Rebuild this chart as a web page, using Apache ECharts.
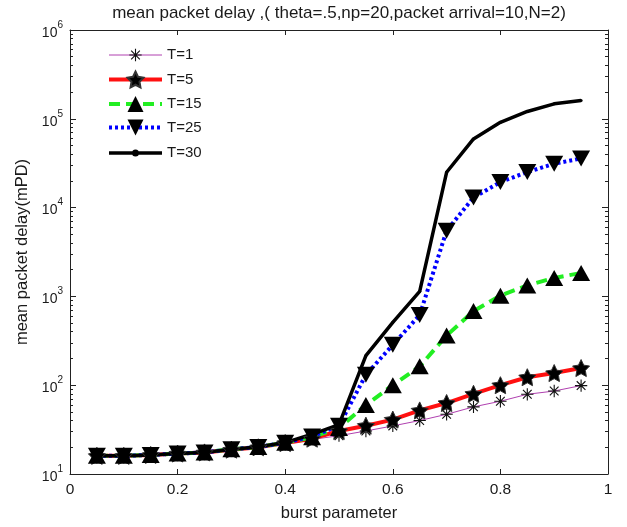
<!DOCTYPE html>
<html>
<head>
<meta charset="utf-8">
<script src="https://cdn.jsdelivr.net/npm/echarts@6/dist/echarts.min.js"></script>
<style>html,body{margin:0;padding:0;background:#fff}#c{width:627px;height:527px}</style>
</head>
<body>
<div id="c"></div>
<script>
var burst = [0.05,0.1,0.15,0.2,0.25,0.3,0.35,0.4,0.45,0.5,0.55,0.6,0.65,0.7,0.75,0.8,0.85,0.9,0.95];
var T1  = [16,16,16.4,17,17.5,19,20.2,22.3,24.5,27,30.5,34.8,40,47,57,66,79,86,99];
var T5  = [16,16,16.4,17,17.5,18.8,20,22.3,25,30.5,35,41,52,63,80,100,123,137,156];
var T15 = [16,16,16.4,17,17.5,19,20.2,22.5,26,33,60,100,163,362,683,1020,1330,1615,1835];
var T25 = [16,16,16.4,17,17.5,19,20.2,22.5,26.5,35,131,285,617,5500,13000,19400,25100,31200,35800];
var T30 = [16,16,16.4,17,17.5,19,20.2,22.6,28,36,215,510,1140,25000,59400,91200,121000,147500,160800];
var xTicks = [0,0.2,0.4,0.6,0.8,1];
var yDecades = [10,100,1000,10000,100000,1000000];
var seriesNames = ['T=1','T=5','T=15','T=25','T=30'];
var titleText = 'mean packet delay ,( theta=.5,np=20,packet arrival=10,N=2)';
var xName = 'burst parameter';
var yName = 'mean packet delay(mPD)';

var FONT = '"Liberation Sans", Arial, Helvetica, sans-serif';
var TXT = '#1a1a1a';
// asterisk inside a 26x26 box (tiny corner slivers keep the box size)
var ASTERISK = 'path://M0 0 L0.02 0 L0.02 0.02 Z M26 26 L25.98 26 L25.98 25.98 Z ' +
  'M12.1 3 L13.9 3 L13.9 23 L12.1 23 Z M3 12.1 L23 12.1 L23 13.9 L3 13.9 Z ' +
  'M5.3 6.6 L6.6 5.3 L20.7 19.4 L19.4 20.7 Z M19.4 5.3 L20.7 6.6 L6.6 20.7 L5.3 19.4 Z';
var STAR = 'path://M10 0 L12.94 5.95 L19.51 6.91 L14.76 11.55 L15.88 18.09 L10 15 L4.12 18.09 L5.24 11.55 L0.49 6.91 L7.06 5.95 Z';
// legend icon for T=30: thick line with a small dot, inside a 53x20 box
var LINEDOT = 'path://M0 0 L0.02 0 L0.02 0.02 Z M53 20 L52.98 20 L52.98 19.98 Z ' +
  'M0 8.25 L53 8.25 L53 11.75 L0 11.75 Z M23 10 A3.5 3.5 0 1 1 30 10 A3.5 3.5 0 1 1 23 10 Z';

function pairs(ys){ return burst.map(function(x,i){ return [x, ys[i]]; }); }

var minorLogs = [];
for (var d = 1; d < 6; d++) { for (var k = 2; k <= 9; k++) { minorLogs.push(d + Math.log10(k)); } }

function logLabel(v){ return '{b|10}{e|' + Math.round(Math.log10(v)) + '}'; }

var chart = echarts.init(document.getElementById('c'), null, {renderer:'canvas'});
var axisLine = {show:true, lineStyle:{color:'#222', width:1}};
var option = {
  animation:false,
  backgroundColor:'#fff',
  textStyle:{fontFamily:FONT},
  title:{text:titleText, left:339, textAlign:'center', top:5, padding:0,
    textStyle:{fontFamily:FONT, fontSize:17, fontWeight:'normal', color:TXT}},
  legend:{orient:'vertical', left:107, top:47, padding:0, itemWidth:53, itemHeight:20, itemGap:7.5,
    lineStyle:{width:'inherit'},
    textStyle:{fontFamily:FONT, fontSize:15, color:TXT},
    data:[seriesNames[0], seriesNames[1], seriesNames[2], seriesNames[3],
      {name:seriesNames[4], icon:LINEDOT}]},
  grid:{left:70, right:19, top:30, bottom:50, containLabel:false},
  xAxis:[
    {type:'value', min:0, max:1, interval:0.2, position:'bottom',
     name:xName, nameLocation:'middle', nameGap:31,
     nameTextStyle:{fontFamily:FONT, fontSize:16.5, color:TXT},
     axisLine:axisLine, axisTick:{show:true, inside:true, length:5, lineStyle:{color:'#222'}},
     axisLabel:{margin:8, fontFamily:FONT, fontSize:15.5, color:TXT,
       formatter:function(v){ return String(Math.round(v*10)/10); }},
     splitLine:{show:false}},
    {type:'value', min:0, max:1, interval:0.2, position:'top',
     axisLine:axisLine, axisTick:{show:true, inside:true, length:5, lineStyle:{color:'#222'}},
     axisLabel:{show:false}, splitLine:{show:false}}
  ],
  yAxis:[
    {type:'log', logBase:10, min:10, max:1000000, position:'left',
     name:yName, nameLocation:'middle', nameGap:34,
     nameTextStyle:{fontFamily:FONT, fontSize:16.5, color:TXT},
     axisLine:axisLine, axisTick:{show:true, inside:true, length:6, lineStyle:{color:'#222'}},
     axisLabel:{margin:7, formatter:logLabel, color:TXT,
       rich:{b:{fontFamily:FONT, fontSize:14, color:TXT, lineHeight:20, verticalAlign:'bottom'},
             e:{fontFamily:FONT, fontSize:10, color:TXT, lineHeight:10, verticalAlign:'top'}}},
     splitLine:{show:false}, minorTick:{show:false}},
    {type:'value', min:1, max:6, position:'left',
     axisLine:{show:false}, axisTick:{show:true, inside:true, length:3, customValues:minorLogs, lineStyle:{color:'#222'}},
     axisLabel:{show:false}, splitLine:{show:false}},
    {type:'log', logBase:10, min:10, max:1000000, position:'right',
     axisLine:axisLine, axisTick:{show:true, inside:true, length:6, lineStyle:{color:'#222'}},
     axisLabel:{show:false}, splitLine:{show:false}},
    {type:'value', min:1, max:6, position:'right',
     axisLine:{show:false}, axisTick:{show:true, inside:true, length:3, customValues:minorLogs, lineStyle:{color:'#222'}},
     axisLabel:{show:false}, splitLine:{show:false}}
  ],
  series:[
    {name:seriesNames[0], type:'line', xAxisIndex:0, yAxisIndex:0, data:pairs(T1),
     symbol:ASTERISK, symbolSize:16, showAllSymbol:true,
     lineStyle:{color:'#b040b0', width:1}, itemStyle:{color:'#111'}},
    {name:seriesNames[1], type:'line', xAxisIndex:0, yAxisIndex:0, data:pairs(T5),
     symbol:STAR, symbolSize:17, showAllSymbol:true,
     lineStyle:{color:'#ff1010', width:4}, itemStyle:{color:'#000', borderColor:'#333', borderWidth:1}},
    {name:seriesNames[2], type:'line', xAxisIndex:0, yAxisIndex:0, data:pairs(T15),
     symbol:'triangle', symbolSize:[18,16], showAllSymbol:true,
     lineStyle:{color:'#22ee22', width:4, type:[11,6]}, itemStyle:{color:'#000'}},
    {name:seriesNames[3], type:'line', xAxisIndex:0, yAxisIndex:0, data:pairs(T25),
     symbol:'triangle', symbolRotate:180, symbolSize:[18,16], showAllSymbol:true,
     lineStyle:{color:'#0000ff', width:4, type:[3,3]}, itemStyle:{color:'#000'}},
    {name:seriesNames[4], type:'line', xAxisIndex:0, yAxisIndex:0, data:pairs(T30),
     symbol:'circle', symbolSize:3, showAllSymbol:true,
     lineStyle:{color:'#000', width:3.5}, itemStyle:{color:'#000'}}
  ]
};
chart.setOption(option);
</script>
</body>
</html>
